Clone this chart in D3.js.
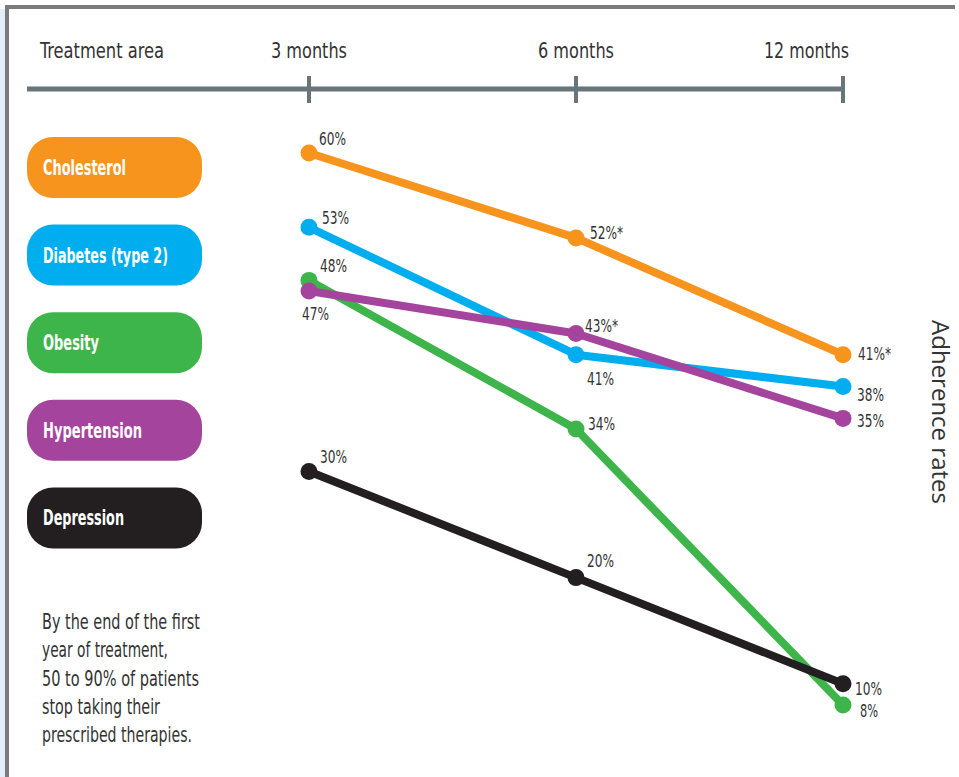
<!DOCTYPE html>
<html>
<head>
<meta charset="utf-8">
<script src="https://cdn.jsdelivr.net/npm/d3@7"></script>
<style>
  body { margin: 0; background: #fff; }
  .narrow { font-family: "DejaVu Sans Condensed", "DejaVu Sans", sans-serif; font-stretch: condensed; }
</style>
</head>
<body>
<div id="chart"></div>
<script>
// data
var periods = ["3 months", "6 months", "12 months"];
var categories = ["Cholesterol", "Diabetes (type 2)", "Obesity", "Hypertension", "Depression"];
var colors = ["#f7941d", "#00aeef", "#3db54a", "#a5449c", "#231f20"];
var cholesterol = [60, 52, 41];
var diabetes = [53, 41, 38];
var obesity = [48, 34, 8];
var hypertension = [47, 43, 35];
var depression = [30, 20, 10];
// values marked with an asterisk in the source
var starred = [["Cholesterol", 1], ["Cholesterol", 2], ["Hypertension", 1]];
var note = ["By the end of the first", "year of treatment,", "50 to 90% of patients",
            "stop taking their", "prescribed therapies."];

var seriesValues = [cholesterol, diabetes, obesity, hypertension, depression];
var series = categories.map(function(c, i){
    return { name: c, color: colors[i], values: seriesValues[i].map(function(v, j){
        var star = starred.some(function(s){ return s[0] === c && s[1] === j; });
        return { period: periods[j], value: v, star: star };
    })};
});

// label offsets per series / period (dx, dy from the dot)
var labelPos = {
    "Cholesterol":       [[10, -8], [14, 1], [15, 5]],
    "Diabetes (type 2)": [[13, -3], [11, 30], [14, 14]],
    "Obesity":           [[11, -8], [12, 1], [17, 12]],
    "Hypertension":      [[-7, 29], [9, -1], [14, 9]],
    "Depression":        [[11, -8], [11, -11], [12, 11]]
};

var width = 959, height = 777;

var svg = d3.select("#chart").append("svg")
    .attr("width", width)
    .attr("height", height);

// squeeze text horizontally if no condensed face was found
function fit(sel, w){
    sel.each(function(){
        var node = this, len = node.getComputedTextLength();
        if (len > w) {
            d3.select(node).attr("textLength", w).attr("lengthAdjust", "spacingAndGlyphs");
        }
    });
}

// frame
svg.append("rect").attr("x", 0).attr("y", 9).attr("width", 5).attr("height", height)
    .attr("fill", "#e2eff8");
svg.append("rect").attr("x", 5).attr("y", 5).attr("width", 4).attr("height", height)
    .attr("fill", "#7b7b7b");
svg.append("rect").attr("x", 5).attr("y", 5).attr("width", 950).attr("height", 4)
    .attr("fill", "#7b7b7b");

// scales
var x = d3.scalePoint().domain(periods).range([309, 843]);
var y = d3.scaleLinear().domain([8, 60]).range([705, 153]);

// top axis
var axisY = 89;
svg.append("line")
    .attr("x1", 27).attr("x2", x(periods[periods.length - 1]))
    .attr("y1", axisY).attr("y2", axisY)
    .attr("stroke", "#68757b").attr("stroke-width", 5);

svg.selectAll("line.tick")
    .data(periods)
    .enter().append("line")
    .attr("class", "tick")
    .attr("x1", function(d){ return x(d); })
    .attr("x2", function(d){ return x(d); })
    .attr("y1", axisY - 13).attr("y2", axisY + 14)
    .attr("stroke", "#68757b").attr("stroke-width", 4);

var periodLabels = svg.selectAll("text.period")
    .data(periods)
    .enter().append("text")
    .attr("class", "period narrow")
    .attr("x", function(d, i){ return i === periods.length - 1 ? x(d) + 6 : x(d); })
    .attr("y", 58)
    .attr("text-anchor", function(d, i){ return i === periods.length - 1 ? "end" : "middle"; })
    .attr("font-size", 22)
    .attr("fill", "#333")
    .text(function(d){ return d; });
periodLabels.each(function(d){
    fit(d3.select(this), d === "12 months" ? 85 : 76);
});

fit(svg.append("text")
    .attr("class", "narrow")
    .attr("x", 40).attr("y", 58)
    .attr("font-size", 22)
    .attr("fill", "#333")
    .text("Treatment area"), 124);

// legend pills
var pill = svg.selectAll("g.pill")
    .data(series)
    .enter().append("g")
    .attr("class", "pill")
    .attr("transform", function(d, i){ return "translate(27," + (137 + i * 87.6) + ")"; });

pill.append("rect")
    .attr("width", 175).attr("height", 61)
    .attr("rx", 26).attr("ry", 26)
    .attr("fill", function(d){ return d.color; });

var pillWidths = { "Cholesterol": 83, "Diabetes (type 2)": 125, "Obesity": 56,
                   "Hypertension": 99, "Depression": 81 };
pill.append("text")
    .attr("class", "narrow")
    .attr("x", 16).attr("y", 38)
    .attr("font-size", 22)
    .attr("font-weight", "bold")
    .attr("fill", "#fff")
    .text(function(d){ return d.name; })
    .each(function(d){ fit(d3.select(this), pillWidths[d.name]); });

// lines
var line = d3.line()
    .x(function(d){ return x(d.period); })
    .y(function(d){ return y(d.value); });

var g = svg.selectAll("g.series")
    .data(series)
    .enter().append("g")
    .attr("class", "series");

g.append("path")
    .attr("d", function(d){ return line(d.values); })
    .attr("fill", "none")
    .attr("stroke", function(d){ return d.color; })
    .attr("stroke-width", 8)
    .attr("stroke-linejoin", "round");

g.selectAll("circle")
    .data(function(d){ return d.values; })
    .enter().append("circle")
    .attr("cx", function(d){ return x(d.period); })
    .attr("cy", function(d){ return y(d.value); })
    .attr("r", 8.5)
    .attr("fill", function(){ return d3.select(this.parentNode).datum().color; });

// value labels
g.each(function(s){
    d3.select(this).selectAll("text.val")
        .data(s.values)
        .enter().append("text")
        .attr("class", "val narrow")
        .attr("x", function(d, j){ return x(d.period) + labelPos[s.name][j][0]; })
        .attr("y", function(d, j){ return y(d.value) + labelPos[s.name][j][1]; })
        .attr("font-size", 17)
        .attr("fill", "#333")
        .text(function(d){ return d.value + "%" + (d.star ? "*" : ""); })
        .each(function(d){
            fit(d3.select(this), d.star ? 33 : (d.value < 10 ? 18 : 27));
        });
});

// side title
svg.append("text")
    .attr("transform", "translate(932,412) rotate(90)")
    .attr("text-anchor", "middle")
    .attr("font-family", "'Open Sans', sans-serif")
    .attr("font-size", 24)
    .attr("fill", "#333")
    .text("Adherence rates");

// note
var noteWidths = [158, 126, 157, 118, 150];
svg.append("g").selectAll("text")
    .data(note)
    .enter().append("text")
    .attr("class", "narrow")
    .attr("x", 42)
    .attr("y", function(d, i){ return 629 + i * 28.3; })
    .attr("font-size", 21)
    .attr("fill", "#333")
    .text(function(d){ return d; })
    .each(function(d, i){ fit(d3.select(this), noteWidths[i]); });
</script>
</body>
</html>
